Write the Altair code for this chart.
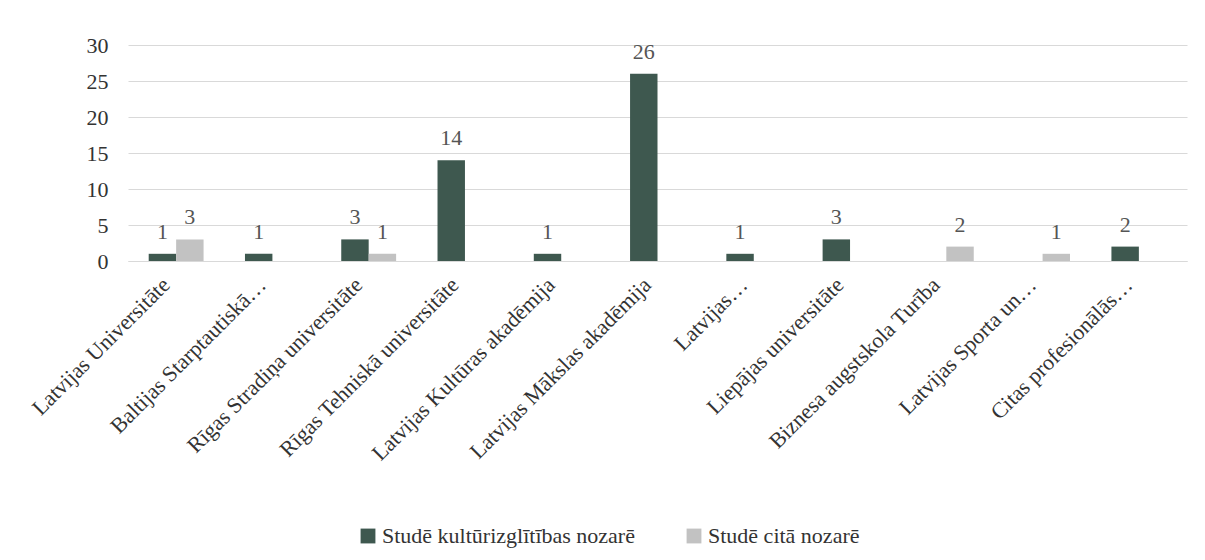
import altair as alt
import pandas as pd

categories = [
    "Latvijas Universitāte",
    "Baltijas Starptautiskā…",
    "Rīgas Stradiņa universitāte",
    "Rīgas Tehniskā universitāte",
    "Latvijas Kultūras akadēmija",
    "Latvijas Mākslas akadēmija",
    "Latvijas…",
    "Liepājas universitāte",
    "Biznesa augstskola Turība",
    "Latvijas Sporta un…",
    "Citas profesionālās…",
]
series = ["Studē kultūrizglītības nozarē", "Studē citā nozarē"]
culture_values = [1, 1, 3, 14, 1, 26, 1, 3, None, None, 2]
other_values = [3, None, 1, None, None, None, None, None, 2, 1, None]
y_ticks = [0, 5, 10, 15, 20, 25, 30]
colors = ["#3e584f", "#c2c2c2"]

rows = []
for s, vals in zip(series, [culture_values, other_values]):
    for c, v in zip(categories, vals):
        if v is not None:
            rows.append({"cat": c, "series": s, "value": v})
df = pd.DataFrame(rows)

FONT = "Liberation Serif, Times New Roman, serif"

x_enc = alt.X(
    "cat:N",
    sort=categories,
    scale=alt.Scale(domain=categories, paddingInner=0.43, paddingOuter=0.215),
    axis=alt.Axis(
        title=None,
        labelAngle=-45,
        labelAlign="right",
        labelBaseline="middle",
        labelFont=FONT,
        labelFontSize=22,
        labelColor="#333333",
        labelLimit=0,
        labelPadding=20,
        labelOffset=-10,
        ticks=False,
        domainColor="#d9d9d9",
        grid=False,
        labelOverlap=False,
    ),
)
xoff_enc = alt.XOffset("series:N", scale=alt.Scale(domain=series, paddingInner=0))
y_enc = alt.Y(
    "value:Q",
    scale=alt.Scale(domain=[0, 30], nice=False),
    axis=alt.Axis(
        title=None,
        values=y_ticks,
        labelFont=FONT,
        labelFontSize=22,
        labelColor="#333333",
        labelPadding=20,
        ticks=False,
        domain=False,
        gridColor="#d9d9d9",
        gridWidth=1,
        labelOverlap=False,
    ),
)

base = alt.Chart(df)

bars = base.mark_bar().encode(
    x=x_enc,
    xOffset=xoff_enc,
    y=y_enc,
    color=alt.Color(
        "series:N",
        scale=alt.Scale(domain=series, range=colors),
        legend=alt.Legend(
            title=None,
            orient="none",
            legendX=229,
            legendY=480,
            direction="horizontal",
            symbolType="square",
            symbolSize=220,
            symbolStrokeWidth=0,
            labelFont=FONT,
            labelFontSize=22,
            labelColor="#333333",
            labelLimit=0,
            columnPadding=48,
            labelOffset=3,
        ),
    ),
)

labels = base.mark_text(
    font=FONT, fontSize=22, color="#555555", baseline="alphabetic", dy=-15
).encode(
    x=x_enc,
    xOffset=xoff_enc,
    y=y_enc,
    text=alt.Text("value:Q"),
)

chart = (
    alt.layer(bars, labels)
    .properties(
        width=1059,
        height=216,
        autosize=alt.AutoSizeParams(type="none"),
        padding={"left": 120, "top": 37, "right": 10, "bottom": 290},
        background="white",
    )
    .configure_view(stroke=None)
    .configure_legend(labelFont=FONT)
)

chart.save("out.html", embed_options={"renderer": "svg", "actions": False})
